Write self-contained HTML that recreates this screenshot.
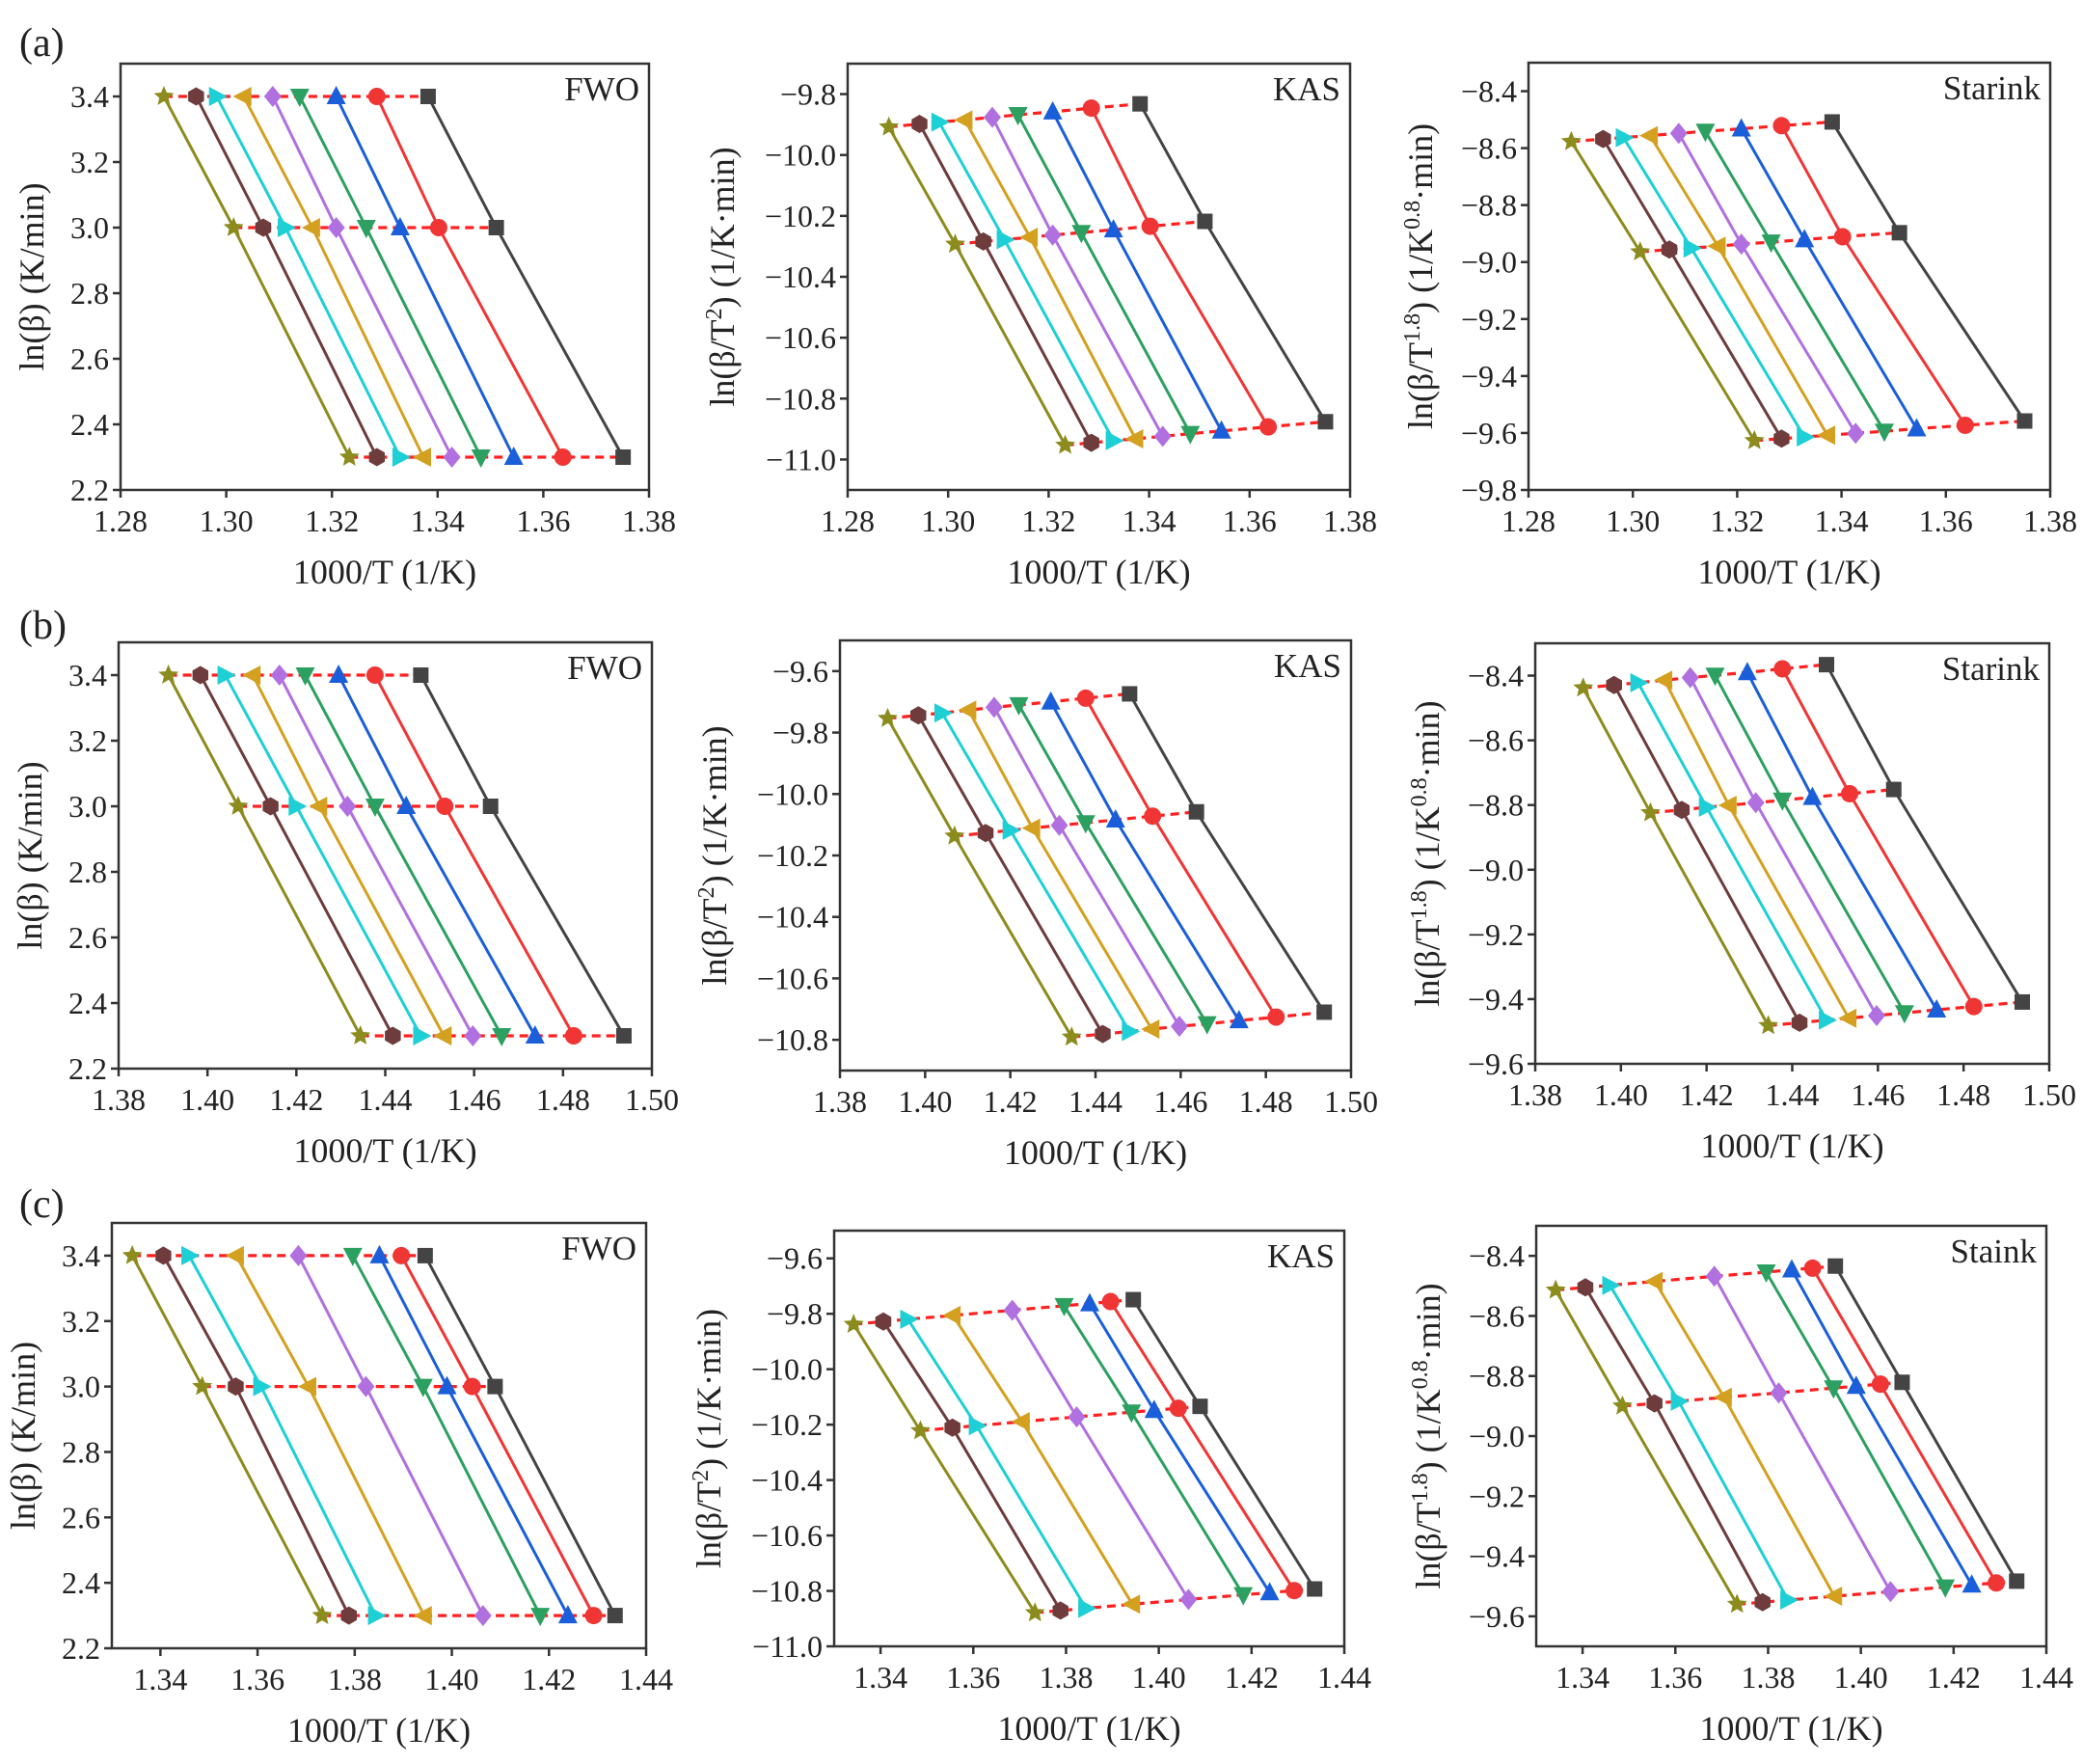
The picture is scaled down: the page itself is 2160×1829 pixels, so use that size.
<!DOCTYPE html>
<html><head><meta charset="utf-8">
<style>
html,body{margin:0;padding:0;background:#fff;}
svg{display:block;}
svg text, svg tspan{font-family:"Liberation Serif","Times New Roman",serif;}
</style></head>
<body>
<svg id="fig" xmlns="http://www.w3.org/2000/svg" width="2160" height="1829" viewBox="0 0 2160 1829"></svg>
<script>
// Series order: olive(star), brown(hex), cyan(right tri), orange(left tri), purple(diamond), green(down tri), blue(up tri), red(circle), black(square)
const seriesNames = ["a-0.1","a-0.2","a-0.3","a-0.4","a-0.5","a-0.6","a-0.7","a-0.8","a-0.9"];
const lnBeta = [3.40, 3.00, 2.30];

const xA_top = [1.2882,1.2943,1.2982,1.3033,1.3088,1.3139,1.3208,1.3285,1.3382];
const xA_mid = [1.3014,1.3070,1.3112,1.3163,1.3208,1.3265,1.3329,1.3402,1.3511];
const xA_bot = [1.3233,1.3285,1.3329,1.3373,1.3427,1.3482,1.3544,1.3637,1.3751];
const kasA_top = [-9.908,-9.898,-9.892,-9.885,-9.876,-9.868,-9.858,-9.846,-9.832];
const kasA_mid = [-10.293,-10.284,-10.278,-10.270,-10.263,-10.255,-10.245,-10.234,-10.218];
const kasA_bot = [-10.953,-10.945,-10.938,-10.932,-10.924,-10.915,-10.906,-10.893,-10.876];
const starA_top = [-8.577,-8.568,-8.563,-8.556,-8.548,-8.541,-8.532,-8.521,-8.508];
const starA_mid = [-8.964,-8.956,-8.951,-8.944,-8.937,-8.930,-8.921,-8.911,-8.897];
const starA_bot = [-9.627,-9.620,-9.614,-9.608,-9.601,-9.594,-9.585,-9.573,-9.558];

const xB_top = [1.3912,1.3984,1.4040,1.4102,1.4162,1.4220,1.4295,1.4377,1.4480];
const xB_mid = [1.4069,1.4142,1.4200,1.4252,1.4315,1.4377,1.4447,1.4534,1.4637];
const xB_bot = [1.4344,1.4417,1.4480,1.4532,1.4597,1.4662,1.4737,1.4824,1.4937];
const kasB_top = [-9.754,-9.744,-9.736,-9.727,-9.718,-9.710,-9.700,-9.688,-9.674];
const kasB_mid = [-10.137,-10.127,-10.118,-10.111,-10.102,-10.094,-10.084,-10.072,-10.058];
const kasB_bot = [-10.791,-10.781,-10.773,-10.765,-10.756,-10.748,-10.737,-10.726,-10.710];
const starB_top = [-8.438,-8.429,-8.422,-8.414,-8.406,-8.399,-8.390,-8.379,-8.366];
const starB_mid = [-8.824,-8.815,-8.807,-8.801,-8.793,-8.785,-8.776,-8.765,-8.752];
const starB_bot = [-9.482,-9.473,-9.465,-9.459,-9.451,-9.443,-9.433,-9.423,-9.409];

const xC_top = [1.3342,1.3406,1.3459,1.3556,1.3684,1.3796,1.3851,1.3896,1.3945];
const xC_mid = [1.3486,1.3555,1.3607,1.3705,1.3823,1.3941,1.3990,1.4042,1.4089];
const xC_bot = [1.3733,1.3788,1.3843,1.3943,1.4064,1.4182,1.4239,1.4292,1.4336];
const kasC_top = [-9.838,-9.828,-9.820,-9.806,-9.787,-9.771,-9.763,-9.756,-9.749];
const kasC_mid = [-10.222,-10.211,-10.204,-10.189,-10.172,-10.155,-10.148,-10.141,-10.134];
const kasC_bot = [-10.879,-10.871,-10.863,-10.848,-10.831,-10.814,-10.806,-10.799,-10.793];
const starC_top = [-8.514,-8.505,-8.498,-8.485,-8.468,-8.454,-8.446,-8.441,-8.434];
const starC_mid = [-8.900,-8.891,-8.884,-8.871,-8.856,-8.840,-8.834,-8.827,-8.821];
const starC_bot = [-9.560,-9.553,-9.546,-9.533,-9.518,-9.503,-9.495,-9.489,-9.483];

const xTicksA = ["1.28","1.30","1.32","1.34","1.36","1.38"];
const xTicksB = ["1.38","1.40","1.42","1.44","1.46","1.48","1.50"];
const xTicksC = ["1.34","1.36","1.38","1.40","1.42","1.44"];
const yTicksFWO = ["2.2","2.4","2.6","2.8","3.0","3.2","3.4"];
const yTicksKasA = ["-11.0","-10.8","-10.6","-10.4","-10.2","-10.0","-9.8"];
const yTicksKasB = ["-10.8","-10.6","-10.4","-10.2","-10.0","-9.8","-9.6"];
const yTicksKasC = ["-11.0","-10.8","-10.6","-10.4","-10.2","-10.0","-9.8","-9.6"];
const yTicksStarA = ["-9.8","-9.6","-9.4","-9.2","-9.0","-8.8","-8.6","-8.4"];
const yTicksStarB = ["-9.6","-9.4","-9.2","-9.0","-8.8","-8.6","-8.4"];
const yTicksStarC = ["-9.6","-9.4","-9.2","-9.0","-8.8","-8.6","-8.4"];

const colors = ["#8c8c1e","#6e3c3c","#1ecfd6","#d4a020","#b070e0","#2ca060","#1a5fd9","#f03535","#444444"];
const shapes = ["star","hex","rtri","ltri","diamond","dtri","utri","circle","square"];

const NS = "http://www.w3.org/2000/svg";
const fig = document.getElementById("fig");
function mk(tag, attrs, parent){
  const e = document.createElementNS(NS, tag);
  for (const k in attrs) e.setAttribute(k, attrs[k]);
  (parent||fig).appendChild(e);
  return e;
}
function fmt(s){ return s.replace("-", "\u2212"); }

function marker(g, shape, cx, cy, color){
  const r = 9;
  let e;
  if (shape === "circle") e = mk("circle", {cx:cx, cy:cy, r:r, fill:color}, g);
  else if (shape === "square") e = mk("rect", {x:cx-8, y:cy-8, width:16, height:16, fill:color}, g);
  else {
    let pts = [];
    if (shape === "star") {
      for (let i=0;i<10;i++){ const a=-Math.PI/2+i*Math.PI/5; const rr=i%2?5:11; pts.push([cx+rr*Math.cos(a), cy+rr*Math.sin(a)]); }
    } else if (shape === "hex") {
      for (let i=0;i<6;i++){ const a=-Math.PI/2+i*Math.PI/3; pts.push([cx+9.5*Math.cos(a), cy+9.5*Math.sin(a)]); }
    } else if (shape === "utri") pts=[[cx,cy-11],[cx+10,cy+8],[cx-10,cy+8]];
    else if (shape === "dtri") pts=[[cx,cy+11],[cx+10,cy-8],[cx-10,cy-8]];
    else if (shape === "rtri") pts=[[cx+11,cy],[cx-8,cy-10],[cx-8,cy+10]];
    else if (shape === "ltri") pts=[[cx-11,cy],[cx+8,cy-10],[cx+8,cy+10]];
    else if (shape === "diamond") pts=[[cx,cy-11],[cx+9,cy],[cx,cy+11],[cx-9,cy]];
    e = mk("polygon", {points: pts.map(p=>p[0].toFixed(1)+","+p[1].toFixed(1)).join(" "), fill:color}, g);
  }
  return e;
}

function panel(cfg){
  const g = mk("g", {});
  
  
  const L=cfg.box[0], T=cfg.box[1], R=cfg.box[2], B=cfg.box[3];
  const sx = v => L + (v-cfg.xlim[0])/(cfg.xlim[1]-cfg.xlim[0])*(R-L);
  const sy = v => B - (v-cfg.ylim[0])/(cfg.ylim[1]-cfg.ylim[0])*(B-T);

  for (let i=0;i<9;i++){
    const xs=[cfg.x[0][i],cfg.x[1][i],cfg.x[2][i]], ys=[cfg.y[0][i],cfg.y[1][i],cfg.y[2][i]];
    const pl = mk("polyline", {points: xs.map((x,k)=>sx(x).toFixed(1)+","+sy(ys[k]).toFixed(1)).join(" "), fill:"none", stroke:colors[i], "stroke-width":3}, g);
    
    
  }
  for (let k=0;k<3;k++){
    const pts = cfg.x[k].map((x,i)=>sx(x).toFixed(1)+","+sy(cfg.y[k][i]).toFixed(1)).join(" ");
    const dl = mk("polyline", {points:pts, fill:"none", stroke:"#ff2020", "stroke-width":3.2, "stroke-dasharray":"9,6"}, g);
    
    
  }
  for (let i=0;i<9;i++){
    for (let k=0;k<3;k++){
      const m = marker(g, shapes[i], sx(cfg.x[k][i]), sy(cfg.y[k][i]), colors[i]);
      
      
    }
  }
  const fr = mk("rect", {x:L, y:T, width:R-L, height:B-T, fill:"none", stroke:"#333", "stroke-width":2.5}, g);
  
  
  cfg.xticks.forEach(t=>{
    const x = sx(parseFloat(t));
    mk("line", {x1:x, y1:B, x2:x, y2:B+8, stroke:"#333", "stroke-width":2.5}, g);
    const tx = mk("text", {x:x, y:B+43, "font-size":32, "text-anchor":"middle", fill:"#222"}, g);
    tx.textContent = t;
    
    
  });
  cfg.yticks.forEach(t=>{
    const y = sy(parseFloat(t));
    mk("line", {x1:L-8, y1:y, x2:L, y2:y, stroke:"#333", "stroke-width":2.5}, g);
    const tx = mk("text", {x:L-12, y:y+11, "font-size":32, "text-anchor":"end", fill:"#222"}, g);
    tx.textContent = fmt(t);
    
    
  });
  const xl = mk("text", {x:(L+R)/2, y:B+97, "font-size":36, "text-anchor":"middle", fill:"#222"}, g);
  xl.textContent = "1000/T (1/K)";
  
  
  const cy = (T+B)/2, cx = L - cfg.ylabOff;
  const yl = mk("text", {x:cx, y:cy, "font-size":36, "text-anchor":"middle", fill:"#222", transform:"rotate(-90 "+cx+" "+cy+")"}, g);
  yl.innerHTML = cfg.ylab;
  
  
  const ml = mk("text", {x:R-10, y:T+38, "font-size":35, "text-anchor":"end", fill:"#222"}, g);
  ml.textContent = cfg.method;
  
  
}

const labFWO = "ln(β) (K/min)";
const labKAS = 'ln(β/T<tspan baseline-shift="super" font-size="24">2</tspan>) (1/K·min)';
const labSTAR = 'ln(β/T<tspan baseline-shift="super" font-size="24">1.8</tspan>) (1/K<tspan baseline-shift="super" font-size="24">0.8</tspan>·min)';

const rows = [
  {tag:"a", xlim:[1.28,1.38], xt:xTicksA, X:[xA_top,xA_mid,xA_bot], K:[kasA_top,kasA_mid,kasA_bot], S:[starA_top,starA_mid,starA_bot],
   boxes:[[125,66,673,508],[879,66,1400,508],[1585,65,2126,508]], kl:[-11.1,-9.7], sl:[-9.8,-8.3], kt:yTicksKasA, st:yTicksStarA, smeth:"Starink", ly:58},
  {tag:"b", xlim:[1.38,1.50], xt:xTicksB, X:[xB_top,xB_mid,xB_bot], K:[kasB_top,kasB_mid,kasB_bot], S:[starB_top,starB_mid,starB_bot],
   boxes:[[123,666,676,1108],[871,664,1401,1110],[1592,667,2125,1103]], kl:[-10.9,-9.5], sl:[-9.6,-8.3], kt:yTicksKasB, st:yTicksStarB, smeth:"Starink", ly:662},
  {tag:"c", xlim:[1.33,1.44], xt:xTicksC, X:[xC_top,xC_mid,xC_bot], K:[kasC_top,kasC_mid,kasC_bot], S:[starC_top,starC_mid,starC_bot],
   boxes:[[116,1268,670,1709],[865,1276,1394,1707],[1593,1271,2122,1707]], kl:[-11.0,-9.5], sl:[-9.7,-8.3], kt:yTicksKasC, st:yTicksStarC, smeth:"Staink", ly:1262}
];
rows.forEach(r=>{
  const lt = mk("text", {x:20, y:r.ly, "font-size":42, fill:"#222"});
  lt.textContent = "(" + r.tag + ")";
  
  
  panel({name:"fwo-plot-"+r.tag, box:r.boxes[0], xlim:r.xlim, ylim:[2.2,3.5], x:r.X, y:[r.X[0].map(()=>lnBeta[0]), r.X[1].map(()=>lnBeta[1]), r.X[2].map(()=>lnBeta[2])],
    xticks:r.xt, yticks:yTicksFWO, ylab:labFWO, ylabOff:80, method:"FWO"});
  panel({name:"kas-plot-"+r.tag, box:r.boxes[1], xlim:r.xlim, ylim:r.kl, x:r.X, y:r.K,
    xticks:r.xt, yticks:r.kt, ylab:labKAS, ylabOff:118, method:"KAS"});
  panel({name:"starink-plot-"+r.tag, box:r.boxes[2], xlim:r.xlim, ylim:r.sl, x:r.X, y:r.S,
    xticks:r.xt, yticks:r.st, ylab:labSTAR, ylabOff:100, method:r.smeth});
});
</script>
</body></html>
